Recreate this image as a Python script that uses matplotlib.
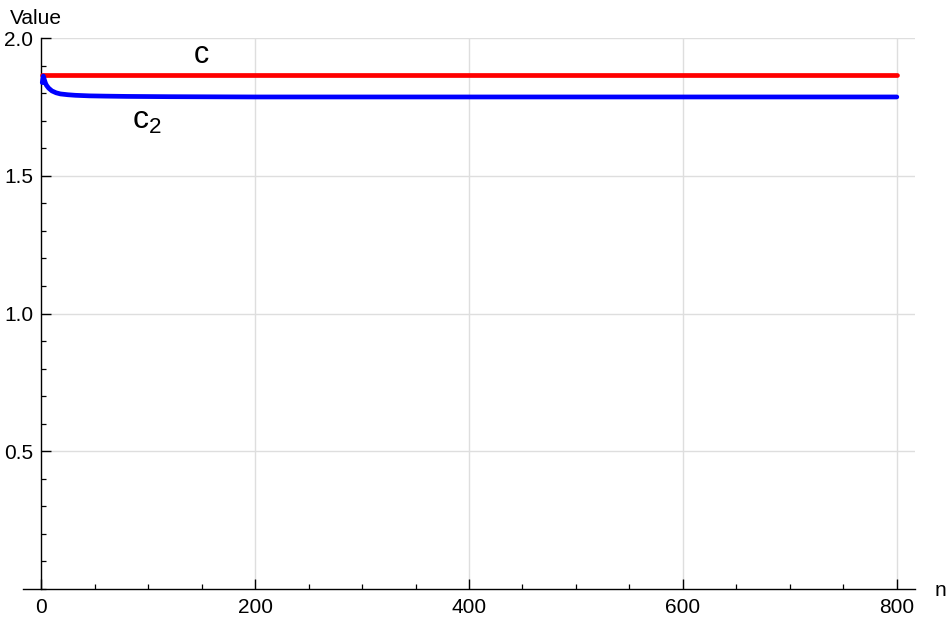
import numpy as np
import matplotlib
matplotlib.use("Agg")
import matplotlib.pyplot as plt
from matplotlib.ticker import MultipleLocator, FixedLocator

plt.rcParams['font.family'] = ['Liberation Sans', 'DejaVu Sans']
plt.rcParams['mathtext.fontset'] = 'custom'
plt.rcParams['mathtext.rm'] = 'Liberation Sans'

# c: constant limit, c2: sequence
n_c = [1, 800]
c_vals = [1.866, 1.866]

n_c2 = [1, 2, 3, 4, 5, 7, 10, 14, 18, 25, 32, 45, 60, 80, 120, 200, 400, 800]
c2_vals = [1.838, 1.862, 1.848, 1.836, 1.828, 1.818, 1.808, 1.801, 1.797, 1.794,
           1.792, 1.790, 1.789, 1.788, 1.787, 1.786, 1.786, 1.786]

x_major = [0, 200, 400, 600, 800]
y_major = [0.5, 1.0, 1.5, 2.0]

fig = plt.figure(figsize=(9.48, 6.21), dpi=100)
ax = fig.add_axes([23 / 948, 32 / 621, (915 - 23) / 948, (589 - 38) / 621])

ax.set_xlim(-17, 817)
ax.set_ylim(0, 2.0)

# grid
for xv in x_major[1:]:
    ax.axvline(xv, color='#dedede', lw=1.0, zorder=0)
for yv in y_major:
    ax.axhline(yv, xmin=17 / 834, color='#dedede', lw=1.0, zorder=0)

ax.plot(n_c, c_vals, color='#ff0000', lw=3.4, solid_capstyle='round', zorder=3)
ax.plot(n_c2, c2_vals, color='#0000ff', lw=3.4, solid_capstyle='round',
        solid_joinstyle='round', zorder=3)

ax.text(150, 1.938, "c", fontsize=22, ha='center', va='center')
ax.text(99, 1.70, r"$\mathregular{c_2}$", fontsize=23, ha='center', va='center')

# axes in Mathematica style
for s in ['top', 'right']:
    ax.spines[s].set_visible(False)
ax.spines['left'].set_position(('data', 0))
ax.spines['bottom'].set_position(('data', 0))
for s in ['left', 'bottom']:
    ax.spines[s].set_linewidth(1.0)

ax.xaxis.set_major_locator(FixedLocator(x_major))
ax.xaxis.set_minor_locator(MultipleLocator(50))
ax.yaxis.set_major_locator(FixedLocator(y_major))
ax.yaxis.set_minor_locator(MultipleLocator(0.1))
ax.set_xticklabels([str(v) for v in x_major])
ax.set_yticklabels([f"{v:.1f}" for v in y_major])
ax.tick_params(which='major', direction='in', length=7, width=1.0, labelsize=15)
ax.tick_params(which='minor', direction='in', length=3.6, width=0.9)
ax.tick_params(axis='x', which='major', pad=6.5)
ax.tick_params(axis='y', which='major', pad=5.8)

fig.text(10 / 948, 1 - 18 / 621, "Value", fontsize=15, ha='left', va='center')
fig.text(935 / 948, 1 - 590 / 621, "n", fontsize=15, ha='left', va='center')

fig.savefig("out.png", dpi=100)
